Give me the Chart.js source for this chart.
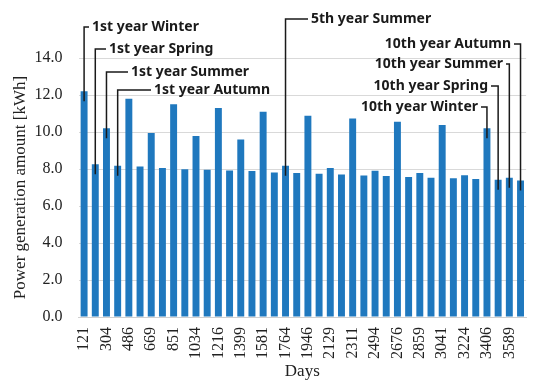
<!DOCTYPE html>
<html>
<head>
<meta charset="utf-8">
<script src="https://cdn.jsdelivr.net/npm/chart.js@4.4.1/dist/chart.umd.min.js"></script>
<style>
  body { margin: 0; background: #fff; }
  #wrap { width: 550px; height: 391px; }
</style>
</head>
<body>
<div id="wrap"><canvas id="myChart" width="550" height="391"></canvas></div>
<script>
// elapsed days, one bar per season over ten years
const days = [121, 212, 304, 395, 486, 577, 669, 760, 851, 942,
    1034, 1125, 1216, 1307, 1399, 1490, 1581, 1672, 1764, 1855,
    1946, 2037, 2129, 2220, 2311, 2402, 2494, 2585, 2676, 2767,
    2859, 2950, 3041, 3132, 3224, 3315, 3406, 3497, 3589, 3680];

// power generation per season [kWh]
const power = [12.2, 8.26, 10.2, 8.18, 11.8, 8.13, 9.95, 8.05, 11.5, 7.99,
    9.78, 7.96, 11.3, 7.92, 9.6, 7.89, 11.1, 7.81, 8.18, 7.78,
    10.88, 7.74, 8.06, 7.7, 10.73, 7.65, 7.9, 7.62, 10.55, 7.57,
    7.79, 7.53, 10.38, 7.5, 7.66, 7.46, 10.2, 7.42, 7.53, 7.38];

const yTicks = [0, 2, 4, 6, 8, 10, 12, 14];

// labelled bars
const noteText = ['1st year Winter', '1st year Spring', '1st year Summer', '1st year Autumn',
    '5th year Summer', '10th year Winter', '10th year Spring', '10th year Summer', '10th year Autumn'];
const noteBar = [0, 1, 2, 3, 18, 36, 37, 38, 39];

// where each label sits (px), and on which side of its line
const notePos = [
    { x: 92, y: 27, side: 'right' },
    { x: 109, y: 49, side: 'right' },
    { x: 131, y: 72, side: 'right' },
    { x: 154, y: 90, side: 'right' },
    { x: 311, y: 19, side: 'right' },
    { x: 478, y: 107, side: 'left' },
    { x: 488, y: 86, side: 'left' },
    { x: 503, y: 64, side: 'left' },
    { x: 511, y: 44, side: 'left' }
];

const notesPlugin = {
    id: 'notes',
    afterDatasetsDraw(chart) {
        const ctx = chart.ctx;
        const xs = chart.scales.x;
        const ys = chart.scales.y;
        ctx.save();
        ctx.font = 'bold 14px "Noto Sans", sans-serif';
        ctx.fillStyle = '#1a1a1a';
        ctx.strokeStyle = '#1a1a1a';
        ctx.lineWidth = 1.5;
        ctx.textBaseline = 'middle';
        noteText.forEach(function(txt, i) {
            const p = notePos[i];
            const bx = xs.getPixelForValue(noteBar[i]);
            const by = ys.getPixelForValue(power[noteBar[i]]) + 10;
            let hx;
            if (p.side === 'right') {
                ctx.textAlign = 'left';
                hx = p.x - 3;
            } else {
                ctx.textAlign = 'right';
                hx = p.x + 3;
            }
            ctx.beginPath();
            ctx.moveTo(hx, p.y);
            ctx.lineTo(bx, p.y);
            ctx.lineTo(bx, by);
            ctx.stroke();
            ctx.fillText(txt, p.x, p.y);
        });
        ctx.restore();
    }
};

const serif = '"Liberation Serif", "Times New Roman", serif';

const ctx = document.getElementById('myChart').getContext('2d');
let myChart = new Chart(ctx, {
    type: 'bar',
    data: {
        labels: days.map(String),
        datasets: [{
            data: power,
            backgroundColor: '#1f78be',
            borderWidth: 0,
            categoryPercentage: 1.0,
            barPercentage: 0.62
        }]
    },
    options: {
        responsive: false,
        animation: false,
        layout: { padding: { top: 58, right: 22, left: 4, bottom: 4 } },
        plugins: {
            legend: { display: false },
            tooltip: { enabled: false }
        },
        scales: {
            x: {
                grid: { display: false, drawTicks: false },
                border: { display: true, color: '#d0d0d0', width: 1 },
                ticks: {
                    autoSkip: false,
                    minRotation: 90,
                    maxRotation: 90,
                    padding: 10,
                    color: '#222',
                    font: { family: serif, size: 16 },
                    callback: function(val, idx) {
                        return idx % 2 === 0 ? this.getLabelForValue(val) : '';
                    }
                },
                title: {
                    display: true,
                    text: 'Days',
                    color: '#222',
                    padding: { top: 3, bottom: 5 },
                    font: { family: serif, size: 17 }
                },
                afterFit: function(axis) {
                    axis.height = 70;
                }
            },
            y: {
                min: 0,
                max: 14,
                afterBuildTicks: function(axis) {
                    axis.ticks = yTicks.map(v => ({ value: v }));
                },
                grid: { color: '#d9d9d9', lineWidth: 1, drawTicks: false },
                border: { display: false },
                ticks: {
                    padding: 16,
                    color: '#222',
                    font: { family: serif, size: 16 },
                    callback: v => v.toFixed(1)
                },
                title: {
                    display: true,
                    text: 'Power generation amount [kWh]',
                    color: '#222',
                    padding: { top: 6, bottom: 4 },
                    font: { family: serif, size: 17 }
                },
                afterFit: function(axis) {
                    axis.width = 74.5;
                }
            }
        }
    },
    plugins: [notesPlugin]
});
</script>
</body>
</html>
